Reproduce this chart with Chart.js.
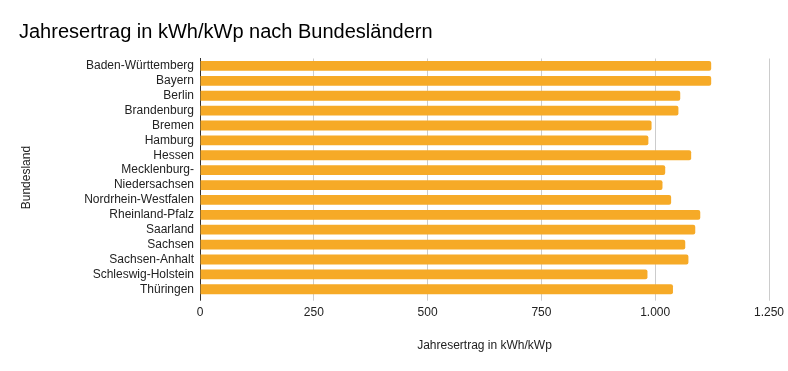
<!DOCTYPE html>
<html lang="de">
<head>
<meta charset="utf-8">
<title>Jahresertrag nach Bundesländern</title>
<script src="https://cdn.jsdelivr.net/npm/chart.js@4"></script>
<style>
    html, body { margin: 0; padding: 0; background: #fff; }
    #wrap { width: 788px; height: 371px; }
</style>
</head>
<body>
<div id="wrap"><canvas id="ertragChart"></canvas></div>
<script>
// --- Data ---
const bundeslaender = [
    'Baden-Württemberg', 'Bayern', 'Berlin', 'Brandenburg', 'Bremen', 'Hamburg',
    'Hessen', 'Mecklenburg-', 'Niedersachsen', 'Nordrhein-Westfalen', 'Rheinland-Pfalz',
    'Saarland', 'Sachsen', 'Sachsen-Anhalt', 'Schleswig-Holstein', 'Thüringen'
];
const jahresertrag = [
    1123, 1123, 1055, 1051, 992, 985,
    1079, 1022, 1016, 1035, 1099,
    1088, 1066, 1073, 983, 1039
];
const xMax = 1250;
const xStep = 250;

const FONT = "'Liberation Sans', Arial, sans-serif";

// --- Chart Rendering ---
const ctx = document.getElementById('ertragChart').getContext('2d');

const ertragChart = new Chart(ctx, {
    type: 'bar',
    data: {
        labels: bundeslaender,
        datasets: [{
            label: 'Jahresertrag in kWh/kWp',
            data: jahresertrag,
            backgroundColor: '#f6aa27',
            borderRadius: 2,
            barPercentage: 0.66,
            categoryPercentage: 1
        }]
    },
    options: {
        indexAxis: 'y',
        locale: 'de-DE',
        responsive: true,
        maintainAspectRatio: false,
        animation: false,
        layout: {
            padding: { left: 19, right: 19, top: 0, bottom: 14 }
        },
        plugins: {
            legend: { display: false },
            tooltip: { enabled: false },
            title: {
                display: true,
                text: 'Jahresertrag in kWh/kWp nach Bundesländern',
                align: 'start',
                color: '#000',
                font: { family: FONT, size: 20, weight: 'normal' },
                padding: { top: 20, bottom: 14.5 }
            }
        },
        scales: {
            x: {
                min: 0,
                max: xMax,
                ticks: {
                    stepSize: xStep,
                    color: '#222',
                    font: { family: FONT, size: 12 },
                    padding: 5
                },
                grid: {
                    color: (c) => c.tick && c.tick.value === 0 ? '#333' : '#cccccc',
                    tickLength: 4
                },
                border: { display: false },
                title: {
                    display: true,
                    text: 'Jahresertrag in kWh/kWp',
                    color: '#222',
                    font: { family: FONT, size: 12 },
                    padding: { top: 13.5, bottom: 4 }
                },
                // let the layout padding decide the right edge, not the last tick label
                afterFit: (scale) => { scale.paddingRight = 0; }
            },
            y: {
                ticks: {
                    autoSkip: false,
                    color: '#222',
                    font: { family: FONT, size: 12 },
                    padding: 6
                },
                grid: { display: false, drawTicks: false },
                border: { display: true, color: '#333' },
                title: {
                    display: true,
                    text: 'Bundesland',
                    color: '#222',
                    font: { family: FONT, size: 12 },
                    padding: 0
                },
                afterFit: (scale) => { scale.width = 181; }
            }
        }
    }
});
</script>
</body>
</html>
